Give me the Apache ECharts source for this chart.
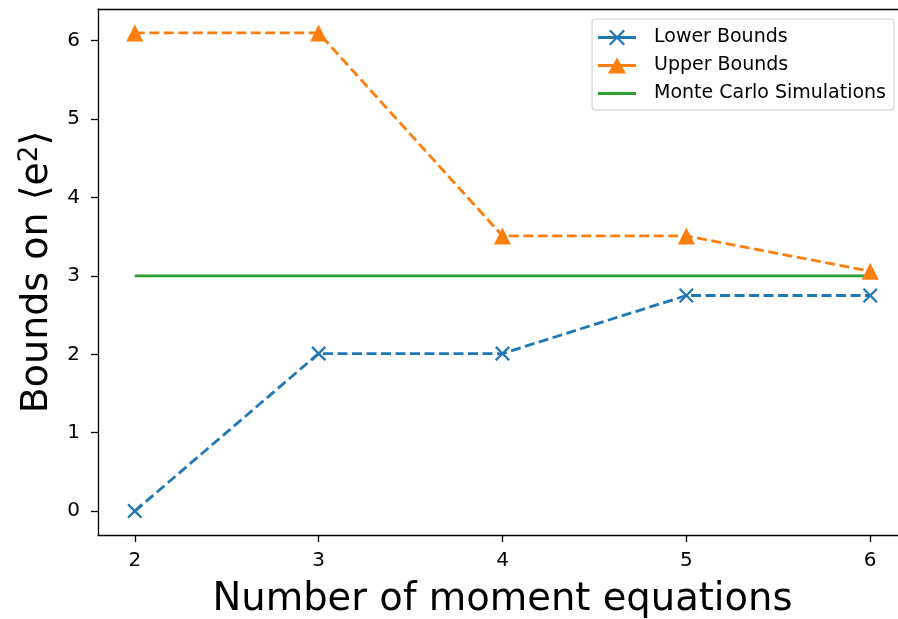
<!DOCTYPE html>
<html><head><meta charset="utf-8">
<script src="https://cdn.jsdelivr.net/npm/echarts@6/dist/echarts.min.js"></script>
<style>html,body{margin:0;padding:0;background:#fff}#c{width:898px;height:619px}</style>
</head><body><div id="c"></div>
<script>
const xValues = [2, 3, 4, 5, 6];
const lowerBounds = [0, 2.01, 2.01, 2.75, 2.75];
const upperBounds = [6.1, 6.1, 3.51, 3.51, 3.06];
const monteCarlo = [3.0, 3.0, 3.0, 3.0, 3.0];
const xTicks = [2, 3, 4, 5, 6];
const yTicks = [0, 1, 2, 3, 4, 5, 6];
const seriesNames = ['Lower Bounds', 'Upper Bounds', 'Monte Carlo Simulations'];

const pair = (ys) => xValues.map((x, i) => [x, ys[i]]);
const xMark = 'path://M0,1.5L1.5,0L7,5.5L12.5,0L14,1.5L8.5,7L14,12.5L12.5,14L7,8.5L1.5,14L0,12.5L5.5,7Z';
const lineRect = 'M0,6.6h38v2.8h-38Z';
const iconLower = 'path://' + lineRect + 'M11,1.6L12.6,0L19,6.4L25.4,0L27,1.6L20.6,8L27,14.4L25.4,16L19,9.6L12.6,16L11,14.4L17.4,8Z';
const iconUpper = 'path://' + lineRect + 'M10,16L19,0L28,16Z';
const iconMC = 'path://' + lineRect;
const font = 'DejaVu Sans';

const chart = echarts.init(document.getElementById('c'), null, {renderer: 'canvas'});
chart.setOption({
  animation: false,
  backgroundColor: '#fff',
  grid: {left: 98, width: 809, top: 9, height: 526, containLabel: false, outerBoundsMode: 'none'},
  legend: {
    orient: 'vertical', left: 592, top: 19,
    padding: [9, 8, 7, 6], itemGap: 9, itemWidth: 38, itemHeight: 16,
    borderColor: '#cccccc', borderWidth: 1, borderRadius: 3,
    textStyle: {fontFamily: font, fontSize: 19, lineHeight: 19, color: '#000', padding: [0, 0, 0, 13]},
    data: [{name: seriesNames[0], icon: iconLower},
           {name: seriesNames[1], icon: iconUpper},
           {name: seriesNames[2], icon: iconMC}]
  },
  xAxis: [{
    type: 'value', min: 1.8, max: 6.2,
    axisLine: {onZero: false, lineStyle: {color: '#000', width: 1.3}},
    axisTick: {show: true, length: 7, lineStyle: {color: '#000', width: 1.3}, customValues: xTicks},
    axisLabel: {fontFamily: font, fontSize: 20, color: '#000', margin: 16, customValues: xTicks},
    splitLine: {show: false},
    name: 'Number of moment equations', nameLocation: 'middle', nameGap: 45,
    nameTextStyle: {fontFamily: font, fontSize: 38.5, color: '#000'}
  }, {
    type: 'value', position: 'top', min: 1.8, max: 6.2,
    axisLine: {show: true, onZero: false, lineStyle: {color: '#000', width: 1.3}},
    axisTick: {show: false}, axisLabel: {show: false}, splitLine: {show: false}
  }],
  yAxis: {
    type: 'value', min: -0.305, max: 6.405,
    axisLine: {show: true, onZero: false, lineStyle: {color: '#000', width: 1.3}},
    axisTick: {show: true, length: 7, lineStyle: {color: '#000', width: 1.3}, customValues: yTicks},
    axisLabel: {fontFamily: font, fontSize: 20, color: '#000', margin: 18, customValues: yTicks},
    splitLine: {show: false},
    name: '{a|Bounds on ⟨e}{s|2}{a|⟩}', nameLocation: 'middle', nameGap: 41, nameRotate: 90,
    nameTextStyle: {
      fontFamily: font, fontSize: 38, color: '#000',
      rich: {a: {fontFamily: font, fontSize: 38, color: '#000'},
             s: {fontFamily: font, fontSize: 26, color: '#000', verticalAlign: 'top', padding: [0, 0, 14, 0]}}
    }
  },
  series: [{
    name: seriesNames[0], type: 'line', data: pair(lowerBounds),
    symbol: xMark, symbolSize: 15, showAllSymbol: true,
    lineStyle: {color: '#1f77b4', width: 2.8, type: [10, 4.5]},
    itemStyle: {color: '#1f77b4'}, z: 3
  }, {
    name: seriesNames[1], type: 'line', data: pair(upperBounds),
    symbol: 'triangle', symbolSize: 17, showAllSymbol: true,
    lineStyle: {color: '#ff7f0e', width: 2.8, type: [10, 4.5]},
    itemStyle: {color: '#ff7f0e'}, z: 3
  }, {
    name: seriesNames[2], type: 'line', data: pair(monteCarlo),
    symbol: 'none', showSymbol: false,
    lineStyle: {color: '#2ca02c', width: 2.8, type: 'solid'},
    itemStyle: {color: '#2ca02c'}, z: 2
  }]
});
</script></body></html>
